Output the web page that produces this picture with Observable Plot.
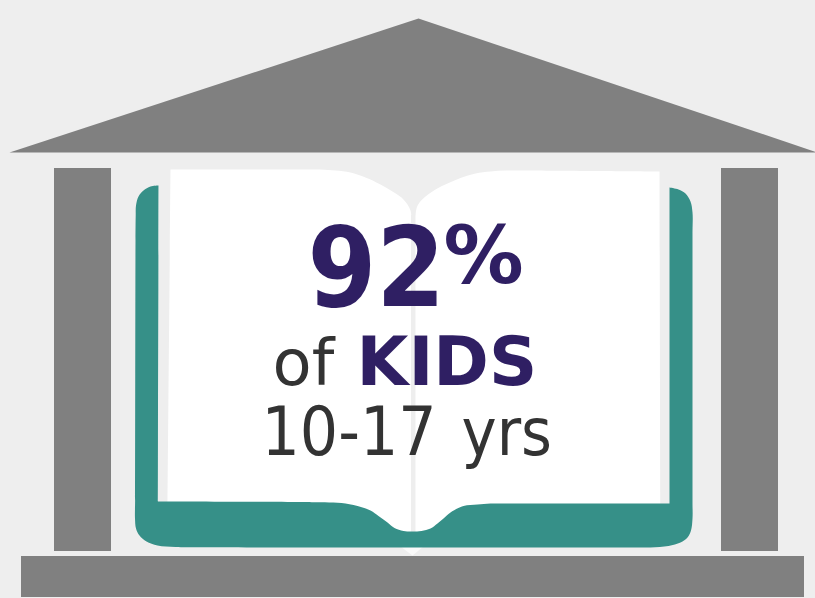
<!DOCTYPE html>
<html>
<head>
<meta charset="utf-8">
<style>html,body{margin:0;padding:0;background:#eeeeee}svg{display:block}</style>
<script src="https://cdn.jsdelivr.net/npm/d3@7"></script>
<script src="https://cdn.jsdelivr.net/npm/@observablehq/plot@0.6"></script>
</head>
<body>
<script>
const roof = [[418,18],[817,152],[9,152]];
const columns = [{x1:54,x2:111,y1:168,y2:551},{x1:721,x2:778,y1:168,y2:551}];
const base = [{x1:21,x2:804,y1:556,y2:597}];
const leftPage = [[170,169],[170,169],[300,169],[320,169],[335,170],[350,172],[365,177],[380,184],[392,191],[401,197],[407,204],[410,210],[411,217],[411,217],[411,540],[411,540],[167,520],[167,520]];
const rightPage = [[415,217],[415,217],[416,208],[419,202],[425,196],[435,189],[447,183],[460,177.5],[475,173],[490,171],[505,170],[520,170],[659,171],[659,171],[660,520],[660,520],[415,540],[415,540]];
const gutter = [{x1:411,x2:415,y1:215,y2:535}];
const pageTip = [[400,546],[412,555],[423,546]];
const cover = [[158,185],[158,185],[150,186],[143,190],[138,196],[135.5,205],[135.2,215],[135,240],[134.6,500],[134.5,518],[135.5,528],[139,535],[146,541],[157,545],[175,546.5],[200,546.8],[630,547],[650,547],[668,545.5],[680,542],[687,537],[690.5,530],[692,518],[692,500],[692,235],[692,212],[690,201],[685,193],[678,189],[669,187],[669,187],[669,503],[669,503],[510,503],[490,503],[477,504],[463,505.5],[450,512],[443,518],[437,523],[430,528],[421,530.5],[412,531],[403,530.5],[394,527.5],[387,522],[378,515.5],[370,510],[353,504.5],[337,502.3],[320,501.8],[300,501.5],[157.5,501],[157.5,501]];
const labels = [
  {t:"92", x:307, y:305, size:110, weight:"bold", fill:"#2f1f63", font:"'DejaVu Sans Condensed'"},
  {t:"%", x:443, y:282, size:80, weight:"bold", fill:"#2f1f63", font:"'DejaVu Sans'"},
  {t:"of", x:272, y:384, size:64, weight:"normal", fill:"#333333", font:"'DejaVu Sans'"},
  {t:"KIDS", x:356, y:384, size:67, weight:"bold", fill:"#2f1f63", font:"'DejaVu Sans'"},
  {t:"10-17", x:261, y:454, size:67, weight:"normal", fill:"#333333", font:"'DejaVu Sans Condensed'"},
  {t:"yrs", x:461, y:454, size:66, weight:"normal", fill:"#333333", font:"'DejaVu Sans Condensed'"}
];
const shape = (pts, fill, curve="catmull-rom-closed") => Plot.line(pts, {x:d=>d[0], y:d=>d[1], fill, stroke:"none", curve});
const chart = Plot.plot({
  width:815, height:598, margin:0,
  x:{domain:[0,815], range:[0,815], axis:null},
  y:{domain:[0,598], range:[0,598], axis:null},
  style:{background:"#eeeeee", fontFamily:"'DejaVu Sans'"},
  marks:[
    shape(roof,"#808080","linear-closed"),
    Plot.rect(columns,{x1:"x1",x2:"x2",y1:"y1",y2:"y2",fill:"#808080"}),
    Plot.rect(base,{x1:"x1",x2:"x2",y1:"y1",y2:"y2",fill:"#808080"}),
    shape(leftPage,"#ffffff"),
    shape(rightPage,"#ffffff"),
    shape(pageTip,"#fafafa","linear-closed"),
    Plot.rect(gutter,{x1:"x1",x2:"x2",y1:"y1",y2:"y2",fill:"#eeeeee"}),
    shape(cover,"#369088"),
    ...labels.map(l=>Plot.text([l],{x:"x",y:"y",text:"t",fontSize:l.size,fontWeight:l.weight,fontFamily:l.font,fill:l.fill,textAnchor:"start",lineAnchor:"bottom"}))
  ]
});
document.body.appendChild(chart);
</script>
</body>
</html>
